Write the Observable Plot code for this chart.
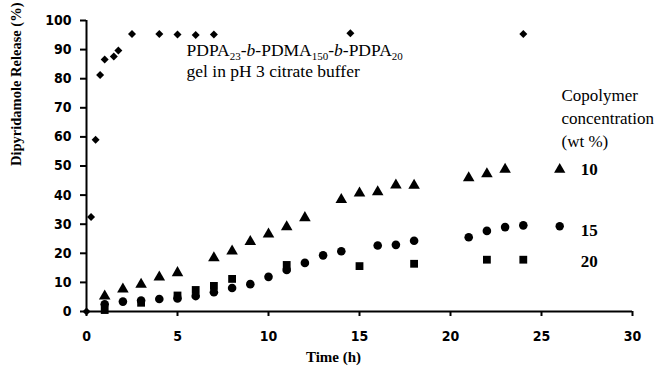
<!DOCTYPE html>
<html>
<head>
<meta charset="utf-8">
<script src="https://cdn.jsdelivr.net/npm/d3@7"></script>
<script src="https://cdn.jsdelivr.net/npm/@observablehq/plot@0.6"></script>
<style>
  html, body { margin: 0; padding: 0; background: #fff; }
</style>
</head>
<body>
<div id="chart"></div>
<script>
// ---- data ----
const xTicks = [0, 5, 10, 15, 20, 25, 30];
const yTicks = [0, 10, 20, 30, 40, 50, 60, 70, 80, 90, 100];

// PDPA23-b-PDMA150-b-PDPA20 gel in pH 3 citrate buffer (diamonds)
const gelTime = [0, 0.25, 0.5, 0.75, 1, 1.5, 1.75, 2.5, 4, 5, 6, 7, 14.5, 24];
const gelRelease = [0, 32.5, 59, 81.3, 86.6, 87.6, 89.7, 95.4, 95.4, 95.2, 95, 95.2, 95.6, 95.4];

// 10 wt% (triangles)
const time10 = [1, 2, 3, 4, 5, 7, 8, 9, 10, 11, 12, 14, 15, 16, 17, 18, 21, 22, 23];
const release10 = [5.3, 7.7, 9.3, 11.8, 13.3, 18.4, 20.7, 24, 26.6, 29.1, 32.2, 38.4, 40.7, 41.1, 43.4, 43.3, 45.9, 47.3, 48.8];

// 15 wt% (circles)
const time15 = [1, 2, 3, 4, 5, 6, 7, 8, 9, 10, 11, 12, 13, 14, 16, 17, 18, 21, 22, 23, 24];
const release15 = [2.5, 3.4, 3.8, 4.3, 4.5, 5.3, 6.6, 8.1, 9.4, 11.9, 14.3, 16.7, 19.3, 20.7, 22.7, 22.9, 24.3, 25.5, 27.7, 29.0, 29.6];

// 20 wt% (squares)
const time20 = [1, 3, 5, 6, 7, 8, 11, 15, 18, 22, 24];
const release20 = [0.5, 3.0, 5.5, 7.4, 8.8, 11.2, 16.0, 15.6, 16.4, 17.8, 17.8];

// legend markers drawn in the plot (Excel-style)
const legendTime = [26, 26];
const legendRelease = [48.8, 29.3];
const legendSymbol = ["triangle", "circle"];
const legendLabels = ["10", "15", "20"];

const gelTitleParts = [["PDPA", ""], ["23", "sub"], ["-", ""], ["b", "i"], ["-PDMA", ""], ["150", "sub"], ["-", ""], ["b", "i"], ["-PDPA", ""], ["20", "sub"]];
const gelSubtitle = "gel in pH 3 citrate buffer";
const concLines = "Copolymer\nconcentration\n(wt %)";
const xLabel = "Time (h)";
const yLabel = "Dipyridamole Release (%)";

// ---- build tables ----
const zip = (xs, ys) => xs.map((x, i) => ({x, y: ys[i]}));
const gel = zip(gelTime, gelRelease);
const s10 = zip(time10, release10);
const s15 = zip(time15, release15);
const s20 = zip(time20, release20);
const legendPts = legendTime.map((x, i) => ({x, y: legendRelease[i], s: legendSymbol[i]}));
const labelY = [48.7, 27.8, 17.3];
const labels = legendLabels.map((t, i) => ({t, y: labelY[i]}));
const gelTitle = gelTitleParts.map(d => d[0]).join("");

const serif = "'Liberation Serif', 'Times New Roman', serif";
const tickFont = "'DejaVu Sans Condensed', 'DejaVu Sans', sans-serif";

const svg = Plot.plot({
  width: 659,
  height: 371,
  marginLeft: 86,
  marginRight: 27,
  marginTop: 20,
  marginBottom: 60,
  x: {domain: [0, 30]},
  y: {domain: [0, 100]},
  style: {fontFamily: tickFont, fontSize: "14px", fontWeight: "bold", color: "black", background: "white"},
  marks: [
    Plot.axisX({ticks: xTicks, tickSize: 5, tickPadding: 15, strokeWidth: 2, label: null, fontSize: 14, fontWeight: "bold", fontFamily: tickFont}),
    Plot.axisY({ticks: yTicks, tickSize: 6, tickPadding: 9, strokeWidth: 2, label: null, fontSize: 14, fontWeight: "bold", fontFamily: tickFont}),
    Plot.ruleY([0], {x1: 0, x2: 30, stroke: "black", strokeWidth: 2}),
    Plot.ruleX([0], {y1: 0, y2: 100, stroke: "black", strokeWidth: 2}),
    Plot.dot(gel, {x: "x", y: "y", symbol: "diamond2", r: 3.6, fill: "black", stroke: "none"}),
    Plot.dot(s10, {x: "x", y: "y", symbol: "triangle", r: 4.3, fill: "black", stroke: "none"}),
    Plot.dot(s15, {x: "x", y: "y", symbol: "circle", r: 4.3, fill: "black", stroke: "none"}),
    Plot.dot(s20, {x: "x", y: "y", symbol: "square", r: 4.4, fill: "black", stroke: "none"}),
    Plot.dot(legendPts, {x: "x", y: "y", symbol: "s", r: 4.2, fill: "black", stroke: "none"}),
    Plot.text(labels, {x: 27.15, y: "y", text: "t", textAnchor: "start", fontFamily: serif, fontWeight: "bold", fontSize: 17, fill: "black"}),
    Plot.text([gelTitle], {x: 5.5, y: 89.6, textAnchor: "start", fontFamily: serif, fontWeight: "normal", fontSize: 17.5, fill: "black"}),
    Plot.text([gelSubtitle], {x: 5.5, y: 82.4, textAnchor: "start", fontFamily: serif, fontWeight: "normal", fontSize: 17.5, fill: "black"}),
    Plot.text([concLines], {x: 26.1, y: 67.0, textAnchor: "start", lineAnchor: "middle", lineHeight: 1.35, fontFamily: serif, fontWeight: "normal", fontSize: 17, fill: "black"}),
    Plot.text([xLabel], {frameAnchor: "bottom", dy: 50, dx: -26, fontFamily: serif, fontWeight: "bold", fontSize: 15, fill: "black"}),
    Plot.text([yLabel], {frameAnchor: "left", dx: -70, rotate: -90, fontFamily: serif, fontWeight: "bold", fontSize: 14.5, fill: "black"})
  ]
});

// rich text (subscripts / italics) for the polymer name
svg.querySelectorAll("text").forEach(t => {
  if (t.textContent === gelTitle) {
    t.textContent = "";
    let shifted = false;
    for (const [s, kind] of gelTitleParts) {
      const ts = document.createElementNS("http://www.w3.org/2000/svg", "tspan");
      ts.textContent = s;
      if (kind === "sub") {
        ts.setAttribute("font-size", "11");
        if (!shifted) { ts.setAttribute("dy", "4"); shifted = true; }
      } else {
        if (shifted) { ts.setAttribute("dy", "-4"); shifted = false; }
        if (kind === "i") ts.setAttribute("font-style", "italic");
      }
      t.appendChild(ts);
    }
  }
});

document.getElementById("chart").appendChild(svg);
</script>
</body>
</html>
